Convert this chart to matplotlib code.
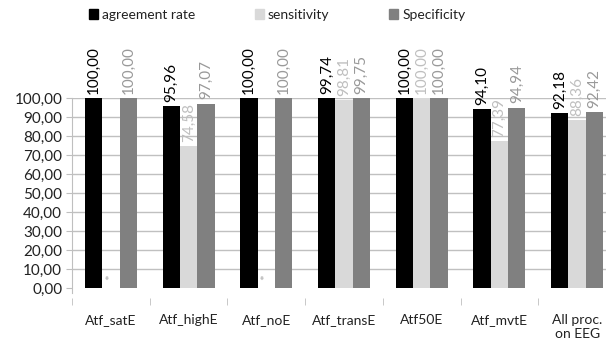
import numpy as np
import matplotlib
matplotlib.use("Agg")
import matplotlib.pyplot as plt
from matplotlib.patches import Patch

plt.rcParams['font.family'] = ['Lato', 'DejaVu Sans']

categories = ["Atf_satE", "Atf_highE", "Atf_noE", "Atf_transE", "Atf50E", "Atf_mvtE", "All proc.\non EEG"]
agreement = [100.00, 95.96, 100.00, 99.74, 100.00, 94.10, 92.18]
sensitivity = [np.nan, 74.58, np.nan, 98.81, 100.00, 77.39, 88.36]
specificity = [100.00, 97.07, 100.00, 99.75, 100.00, 94.94, 92.42]
series_names = ["agreement rate", "sensitivity", "Specificity"]
yticks = [0, 10, 20, 30, 40, 50, 60, 70, 80, 90, 100]

colors = ["#000000", "#d9d9d9", "#808080"]
label_colors = ["#000000", "#bfbfbf", "#999999"]

fig = plt.figure(figsize=(6.06, 3.49), dpi=100)
ax = fig.add_axes([72/606, 51.5/349, 544/606, 199.5/349])

x = np.arange(len(categories))
w = 0.223
for i, (vals, c, lc) in enumerate(zip([agreement, sensitivity, specificity], colors, label_colors)):
    pos = x + (i - 1) * w
    v = np.array(vals, dtype=float)
    ax.bar(pos, np.nan_to_num(v), width=w, color=c, zorder=3)
    for p, val in zip(pos, v):
        if np.isnan(val):
            ax.annotate("*", (p, 0), xytext=(0, 6), textcoords="offset points",
                        rotation=90, ha="center", va="bottom", fontsize=10,
                        color="#aaaaaa", zorder=5)
        else:
            ax.annotate(f"{val:.2f}".replace(".", ","), (p, val), xytext=(0, 3),
                        textcoords="offset points", rotation=90, ha="center",
                        va="bottom", fontsize=11, color=lc, annotation_clip=False)

ax.set_xlim(-0.5, len(categories) - 0.5)
ax.set_ylim(-5, 100)
ax.set_yticks(yticks)
ax.set_yticklabels([f"{t:.2f}".replace(".", ",") for t in yticks], fontsize=11, color="#222222")
for t in yticks[1:]:
    ax.axhline(t, color="#c0c0c0", lw=1, zorder=1)

ax.set_xticks(x)
ax.set_xticklabels(categories, fontsize=10, color="#222222")
ax.set_xticks(np.arange(-0.5, len(categories)), minor=True)
ax.tick_params(axis="x", which="major", length=0, pad=12)
ax.tick_params(axis="x", which="minor", length=5, color="#bfbfbf", direction="out")
ax.tick_params(axis="y", length=4, color="#bfbfbf", pad=3)

for s in ["top", "right", "bottom"]:
    ax.spines[s].set_visible(False)
ax.spines["left"].set_color("#bfbfbf")
ax.spines["left"].set_bounds(-2.5, 100)

handles = [Patch(facecolor=c, edgecolor=c) for c in colors]
fig.legend(handles, series_names, loc="center", bbox_to_anchor=(277/606, 1 - 15/349),
           ncol=3, frameon=False, fontsize=10, handlelength=0.65, handleheight=0.65,
           handletextpad=0.3, columnspacing=4.3, labelcolor="#222222")

fig.savefig("out.png", dpi=100)
